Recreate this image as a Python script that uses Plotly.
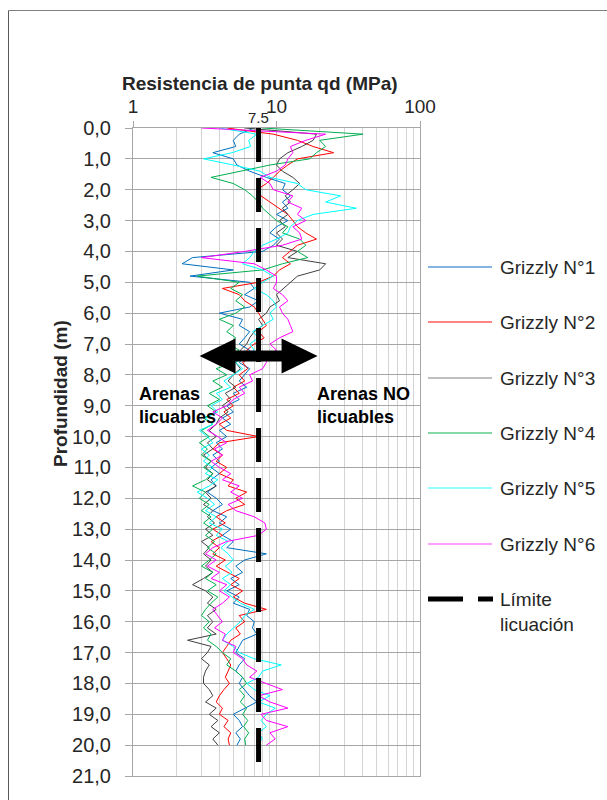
import math
import plotly.graph_objects as go

# ---------------- data ----------------
depth = [round(i * 0.2, 1) for i in range(101)]  # Profundidad (m), 0.0 .. 20.0

grizzly_1 = [7.0, 5.5, 5.0, 5.2, 3.6,
             5.0, 5.3, 6.5, 8.5, 11.5,
             11.0, 12.5, 11.0, 12.0, 10.0,
             12.0, 10.0, 9.0, 10.5, 9.5,
             8.0, 2.6, 2.2, 5.0, 2.5,
             6.5, 7.0, 6.0, 7.5, 6.5,
             4.0, 5.8, 5.5, 6.5, 6.0,
             5.5, 6.5, 6.0, 5.5, 6.5,
             6.0, 5.5, 6.2, 5.0, 5.5,
             4.5, 5.0, 4.2, 4.8, 4.0,
             4.5, 3.8, 4.2, 3.6, 4.0,
             3.5, 4.0, 3.5, 3.8, 3.3,
             3.8, 4.2, 3.6, 4.5, 4.0,
             4.8, 4.2, 5.0, 4.5, 8.5,
             6.0, 5.2, 5.8, 4.8, 5.5,
             4.5, 5.5, 5.0, 6.5, 6.2,
             7.0, 6.8, 7.3, 5.8, 5.5,
             5.2, 6.0, 5.5, 5.2, 5.8,
             5.5, 6.0, 6.5, 7.3, 6.0,
             5.0, 5.5, 5.8, 5.2, 5.6,
             5.3]

grizzly_2 = [4.5, 9.5, 14.0, 18.0, 25.0,
             14.0, 12.0, 10.5, 9.5, 8.5,
             7.3, 7.8, 9.0, 10.5, 12.0,
             13.0, 14.0, 16.0, 19.0, 14.0,
             12.5, 11.0, 12.5, 10.5, 9.5,
             7.5, 4.2, 5.5, 6.0, 7.0,
             7.5, 8.0, 8.5, 7.5, 8.2,
             7.0, 6.2, 6.8, 5.8, 6.3,
             5.5, 6.0, 5.0, 5.5, 4.5,
             5.0, 4.3, 4.8, 4.0, 4.5,
             7.5, 4.0, 3.6, 4.2, 3.8,
             4.5, 4.0, 5.0, 4.6, 6.2,
             5.2, 6.0, 4.5, 3.8, 4.4,
             3.6, 4.2, 3.5, 4.0, 3.6,
             4.4, 3.8, 4.6, 5.5, 4.8,
             5.8, 5.0, 6.0, 8.5, 5.5,
             6.0, 5.2, 5.6, 4.8, 4.5,
             4.2, 4.5, 4.8, 4.6, 4.4,
             4.7, 4.3, 4.0, 3.8, 4.2,
             4.0, 4.6, 4.3, 4.8, 4.6,
             4.7]

grizzly_3 = [6.0, 19.0, 18.0, 15.0, 12.0,
             10.5, 10.0, 11.0, 13.0, 14.5,
             13.0, 11.5, 12.5, 11.0, 12.0,
             10.5, 11.5, 10.0, 11.0, 10.0,
             14.0, 12.0, 22.0, 20.0, 14.0,
             12.5, 11.0, 10.0, 10.5, 9.0,
             8.5, 7.5, 8.0, 7.0, 6.5,
             6.2, 5.6, 6.0, 5.2, 5.6,
             5.0, 4.6, 5.2, 4.4, 4.8,
             4.2, 4.6, 4.0, 3.8, 3.4,
             3.8, 3.3, 3.6, 3.1, 3.5,
             3.2, 3.6, 3.3, 3.8, 3.2,
             3.5, 3.1, 3.6, 3.3, 3.7,
             3.2, 3.6, 3.0, 3.4, 3.1,
             3.5, 3.2, 3.6, 3.1, 2.6,
             3.2, 3.6, 3.3, 3.8, 3.3,
             3.6, 3.3, 3.8, 2.4, 3.5,
             3.3, 3.0, 3.4, 3.2, 3.1,
             3.1, 3.4, 3.6, 3.2, 3.8,
             3.4, 3.9, 3.5, 4.0, 3.6,
             3.9]

grizzly_4 = [8.0, 40.0, 20.0, 22.0, 19.0,
             17.0, 9.0, 5.6, 3.5, 5.0,
             6.0, 6.8, 7.5, 8.0, 9.0,
             10.0, 12.0, 11.0, 14.5, 16.0,
             14.0, 16.5, 11.0, 8.0, 2.8,
             5.5, 4.8, 5.8, 5.2, 6.0,
             5.2, 4.0, 5.0, 4.5, 5.2,
             4.6, 5.5, 4.4, 5.0, 3.8,
             4.5, 3.6, 4.2, 3.4, 4.0,
             3.3, 3.8, 3.1, 3.6, 3.0,
             3.4, 2.9, 3.3, 3.0, 3.5,
             3.1, 3.6, 3.2, 2.6, 3.2,
             2.9, 3.4, 3.0, 3.5, 3.1,
             3.6, 3.2, 3.7, 3.3, 3.8,
             3.4, 3.0, 3.6, 3.2, 3.8,
             3.3, 3.9, 3.5, 3.2, 3.0,
             3.4, 3.1, 3.5, 3.3, 3.8,
             4.2, 4.8, 4.5, 5.2, 5.8,
             6.2, 5.5, 6.0, 5.6, 6.2,
             5.8, 6.3, 5.9, 6.4, 6.0,
             6.1]

grizzly_5 = [4.0, 7.3, 6.4, 6.6, 4.9,
             3.1, 5.0, 7.7, 9.0, 14.0,
             16.0, 28.0, 22.0, 36.0, 18.0,
             14.0, 12.5, 12.0, 10.0, 8.0,
             7.0, 6.5, 5.8, 8.0, 9.5,
             8.0, 7.0, 8.5, 9.5, 10.0,
             9.0, 9.5, 8.0, 6.8, 7.5,
             6.5, 7.0, 6.0, 5.2, 5.8,
             5.0, 4.3, 4.8, 3.8, 4.2,
             3.5, 3.9, 3.2, 3.6, 2.9,
             3.3, 3.6, 3.0, 3.4, 3.1,
             3.6, 3.2, 3.9, 3.4, 2.8,
             3.3, 3.7, 3.2, 3.8, 3.4,
             4.2, 3.8, 4.6, 4.1, 4.6,
             5.0, 4.4, 4.9, 4.2, 4.8,
             4.3, 4.9, 5.6, 7.0, 6.0,
             5.6, 5.0, 4.5, 4.2, 5.0,
             5.5, 7.0, 10.8, 8.0, 7.5,
             6.2, 7.0, 9.0, 7.5, 9.8,
             8.5, 7.8, 8.5, 7.5, 8.0,
             7.2]

grizzly_6 = [3.0, 22.0, 16.0, 12.5, 13.0,
             12.0, 11.5, 10.0, 7.7, 9.0,
             9.5, 13.0, 12.0, 15.0, 14.0,
             16.0, 13.0, 14.5, 15.0, 11.0,
             6.0, 3.0, 7.0, 8.5, 10.0,
             10.0, 9.5, 11.0, 12.0, 10.5,
             11.0, 12.0, 12.5, 13.0, 10.5,
             9.0, 10.0, 8.5, 8.5, 8.0,
             6.5, 6.8, 5.5, 6.0, 5.0,
             4.5, 3.6, 4.2, 3.8, 3.3,
             3.9, 4.5, 3.7, 4.2, 3.5,
             4.0, 4.8, 4.2, 5.5, 4.8,
             5.8, 4.6, 5.2, 7.0, 8.3,
             8.5, 7.5, 4.5, 3.6, 3.2,
             3.8, 3.3, 4.0, 3.5, 4.5,
             4.0, 4.7, 4.2, 3.6, 3.9,
             4.2, 3.7, 4.4, 4.2, 5.2,
             5.0, 5.8, 6.2, 7.3, 6.5,
             8.5, 11.0, 7.5, 9.0, 12.0,
             7.8, 8.5, 12.0, 9.0, 9.8,
             8.5]

series_names = ["Grizzly N°1", "Grizzly N°2", "Grizzly N°3",
                "Grizzly N°4", "Grizzly N°5", "Grizzly N°6"]
series_values = [grizzly_1, grizzly_2, grizzly_3, grizzly_4, grizzly_5, grizzly_6]
series_colors = ["#0070C0", "#FF0000", "#404040", "#00B050", "#00FFFF", "#FF00FF"]
legend_colors = ["#5B9BD5", "#FF5B5B", "#BFBFBF", "#5FCB8A", "#70FFFF", "#FF80FF"]

limit_value = 7.5            # Límite licuación (MPa)
limit_depths = [0.0, 21.0]
x_tick_vals = [1, 10, 100]
x_tick_text = ["1", "10", "100"]
depth_max = 21

# ---------------- layout geometry (page pixels; body margin removed) ----------------
W, H = 607, 800
PL, PR, PT, PB = 133, 420, 128, 776
FONT = "Liberation Sans"
TXT = "#262626"


def px(xp):
    return (xp - PL) / (PR - PL)


def py(yp):
    return (PB - yp) / (PB - PT)


fig = go.Figure()
for name, vals, col in zip(series_names, series_values, series_colors):
    fig.add_trace(go.Scatter(x=vals, y=depth, mode="lines", name=name,
                             line=dict(color=col, width=1), showlegend=False))

fig.add_trace(go.Scatter(x=[limit_value] * len(limit_depths), y=limit_depths,
                         mode="lines", name="Límite licuación",
                         line=dict(color="black", width=5, dash="34px,16px"),
                         showlegend=False))

minor_vals = [m * 10 ** d for d in range(2) for m in range(2, 10)]

fig.update_layout(
    width=W, height=H,
    margin=dict(l=PL, r=W - PR, t=PT, b=H - PB),
    paper_bgcolor="white", plot_bgcolor="white",
    separators=", ",
    font=dict(family=FONT, color=TXT),
    xaxis=dict(type="log", range=[0, 2], side="top",
               tickvals=x_tick_vals, ticktext=x_tick_text,
               tickfont=dict(size=19, color=TXT),
               ticks="outside", ticklen=6, tickcolor="#A6A6A6",
               ticklabelstandoff=0,
               showgrid=True, gridcolor="#BFBFBF", gridwidth=1,
               minor=dict(tickvals=minor_vals, showgrid=True,
                          gridcolor="#D4D4D4", gridwidth=1),
               showline=True, linecolor="#A6A6A6", linewidth=1, mirror=True,
               zeroline=False, fixedrange=True),
    yaxis=dict(range=[depth_max, 0], dtick=1, tick0=0, tickformat=".1f",
               tickfont=dict(size=20, color=TXT),
               ticks="outside", ticklen=7, tickcolor="#A6A6A6",
               ticklabelstandoff=10,
               showgrid=True, gridcolor="#A6A6A6", gridwidth=1,
               showline=True, linecolor="#A6A6A6", linewidth=1, mirror=True,
               zeroline=False, fixedrange=True),
)

annotations = []
annotations.append(dict(text="<b>Resistencia de punta qd (MPa)</b>", xref="paper", yref="paper",
                        x=px(260), y=py(84), showarrow=False, font=dict(size=19, color=TXT),
                        xanchor="center", yanchor="middle"))
annotations.append(dict(text="<b>Profundidad (m)</b>", xref="paper", yref="paper",
                        x=px(60), y=py(394), showarrow=False, textangle=-90,
                        font=dict(size=19, color=TXT), xanchor="center", yanchor="middle"))
annotations.append(dict(text="7.5", xref="x", yref="paper", x=math.log10(limit_value), y=py(117),
                        xshift=0, showarrow=False, font=dict(size=15, color=TXT),
                        xanchor="center", yanchor="middle"))
annotations.append(dict(text="<b>Arenas<br>licuables</b>", xref="paper", yref="paper",
                        x=px(137), y=py(405), showarrow=False, align="left",
                        font=dict(size=18, color="black"), xanchor="left", yanchor="middle"))
annotations.append(dict(text="<b>Arenas NO<br>licuables</b>", xref="paper", yref="paper",
                        x=px(315), y=py(405), showarrow=False, align="left",
                        font=dict(size=18, color="black"), xanchor="left", yanchor="middle"))

shapes = []
# outer chart frame (left and top edges visible)
shapes.append(dict(type="line", xref="paper", yref="paper", x0=px(8.5), x1=px(8.5),
                   y0=py(10.5), y1=py(800), line=dict(color="#595959", width=1)))
shapes.append(dict(type="line", xref="paper", yref="paper", x0=px(8.5), x1=px(607),
                   y0=py(10.5), y1=py(10.5), line=dict(color="#808080", width=1)))

# double-headed arrow centred on the limit line
arrow_depth = 7.39
cx = math.log10(limit_value) / 2
cy = 1 - arrow_depth / depth_max
sx, sy = 1 / (PR - PL), 1 / (PB - PT)
half_len, head_len, head_h, shaft_h = 59, 36, 17.5, 5.5
pts = [(-half_len, 0), (-half_len + head_len, head_h), (-half_len + head_len, shaft_h),
       (half_len - head_len, shaft_h), (half_len - head_len, head_h), (half_len, 0),
       (half_len - head_len, -head_h), (half_len - head_len, -shaft_h),
       (-half_len + head_len, -shaft_h), (-half_len + head_len, -head_h)]
path = "M " + " L ".join(f"{cx + dx * sx:.5f},{cy + dy * sy:.5f}" for dx, dy in pts) + " Z"
shapes.append(dict(type="path", xref="paper", yref="paper", path=path,
                   fillcolor="black", line=dict(color="black", width=0), layer="above"))

# manual legend
legend_y = [267, 322, 378, 433, 488, 544]
for name, col, ly in zip(series_names, legend_colors, legend_y):
    shapes.append(dict(type="line", xref="paper", yref="paper", x0=px(428), x1=px(492),
                       y0=py(ly), y1=py(ly),
                       line=dict(color=col, width=2 if col == "#BFBFBF" else 1.5)))
    annotations.append(dict(text=name, xref="paper", yref="paper", x=px(498), y=py(ly),
                            showarrow=False, font=dict(size=19, color=TXT),
                            xanchor="left", yanchor="middle"))
lim_y = 599
shapes.append(dict(type="line", xref="paper", yref="paper", x0=px(428), x1=px(463),
                   y0=py(lim_y), y1=py(lim_y), line=dict(color="black", width=5)))
shapes.append(dict(type="line", xref="paper", yref="paper", x0=px(478), x1=px(493),
                   y0=py(lim_y), y1=py(lim_y), line=dict(color="black", width=5)))
annotations.append(dict(text="Límite<br>licuación", xref="paper", yref="paper", x=px(498),
                        y=py(lim_y - 12), showarrow=False, align="left",
                        font=dict(size=19, color=TXT), xanchor="left", yanchor="top"))

fig.update_layout(annotations=annotations, shapes=shapes)
fig.write_html("out.html",
               config={"displayModeBar": False},
               post_script="document.body.style.margin='0';document.body.style.overflow='hidden';")
